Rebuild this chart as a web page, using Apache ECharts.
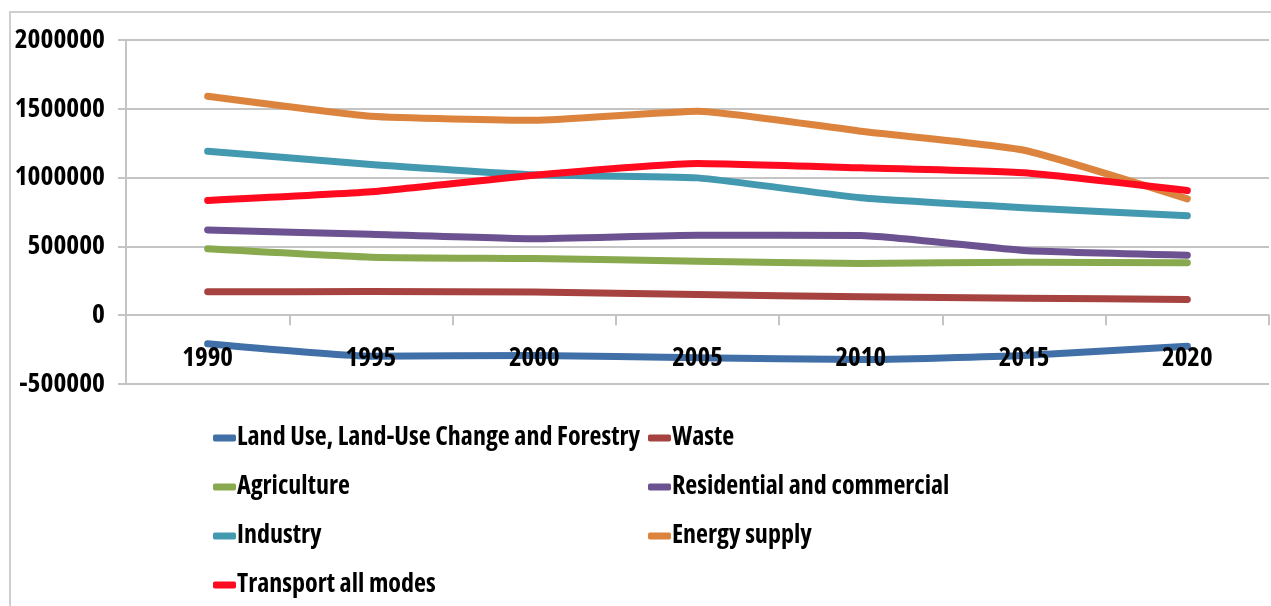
<!DOCTYPE html>
<html>
<head>
<meta charset="utf-8">
<script src="https://cdn.jsdelivr.net/npm/echarts@6/dist/echarts.min.js"></script>
<style>
html,body{margin:0;padding:0;background:#fff;}
#chart{width:1271px;height:606px;}
</style>
</head>
<body>
<div id="chart"></div>
<script>
var years = ['1990','1995','2000','2005','2010','2015','2020'];
var lulucf = [-208000, -298000, -293000, -310000, -322000, -293000, -225000];
var waste = [170000, 172000, 168000, 150000, 134000, 124000, 114000];
var agriculture = [483000, 422000, 412000, 392000, 376000, 385000, 381000];
var residential = [620000, 588000, 555000, 581000, 579000, 470000, 436000];
var industry = [1192000, 1095000, 1020000, 998000, 853000, 781000, 722000];
var energy = [1591000, 1446000, 1417000, 1483000, 1337000, 1199000, 846000];
var transport = [834000, 897000, 1017000, 1102000, 1071000, 1035000, 906000];
var yTicks = [-500000, 0, 500000, 1000000, 1500000, 2000000];

var names = ['Land Use, Land-Use Change and Forestry','Waste','Agriculture','Residential and commercial','Industry','Energy supply','Transport all modes'];
var colors = ['#4170a8','#a6423f','#89a94e','#6c5290','#4399b0','#dc843d','#ff0a1e'];
var datas = [lulucf, waste, agriculture, residential, industry, energy, transport];

var FONT = '"Open Sans", Roboto, "Liberation Sans", sans-serif';
var WEIGHT = 'bold condensed';

var series = names.map(function(n,i){
  return {
    name: n, type: 'line', data: datas[i], symbol: 'none', smooth: 0.15,
    lineStyle: {width: 7, color: colors[i], cap: 'round', join: 'round'},
    itemStyle: {color: colors[i]}, z: 3
  };
});

var legendCommon = {
  orient: 'vertical', itemWidth: 23, itemHeight: 7, itemGap: 23,
  icon: 'roundRect', selectedMode: false,
  textStyle: {fontFamily: FONT, fontWeight: WEIGHT, fontSize: 26, color: '#000', lineHeight: 26, padding: [0,0,0,-4]},
  padding: 0
};

var chart = echarts.init(document.getElementById('chart'), null, {renderer: 'canvas'});
chart.setOption({
  animation: false,
  color: colors,
  graphic: [{type: 'rect', shape: {x: 10, y: 12, width: 1400, height: 700}, style: {fill: 'none', stroke: '#cfcfcf', lineWidth: 2}, silent: true}],
  grid: {left: 126, right: 2, top: 40, bottom: 222, containLabel: false, outerBoundsMode: 'none'},
  legend: [
    Object.assign({}, legendCommon, {left: 213, top: 425, data: [names[0], names[2], names[4], names[6]]}),
    Object.assign({}, legendCommon, {left: 648, top: 425, data: [names[1], names[3], names[5]]})
  ],
  xAxis: {
    type: 'category', data: years, boundaryGap: true, z: 10,
    axisLine: {onZero: true, lineStyle: {color: '#c4c4c4', width: 2}},
    axisTick: {show: true, length: 10, interval: 0, lineStyle: {color: '#c4c4c4', width: 2}},
    axisLabel: {margin: -39, fontFamily: FONT, fontWeight: WEIGHT, fontSize: 27, color: '#000'},
    splitLine: {show: false}
  },
  yAxis: {
    type: 'value', min: -500000, max: 2000000, interval: 500000,
    axisLine: {show: true, lineStyle: {color: '#c4c4c4', width: 2}},
    axisTick: {show: true, length: 8, lineStyle: {color: '#c4c4c4', width: 2}},
    axisLabel: {margin: 21, fontFamily: FONT, fontWeight: WEIGHT, fontSize: 27.5, color: '#000',
      formatter: function(v){ return yTicks.indexOf(v) >= 0 ? String(v) : ''; }},
    splitLine: {show: true, lineStyle: {color: '#c4c4c4', width: 2}}
  },
  series: series
});
</script>
</body>
</html>
